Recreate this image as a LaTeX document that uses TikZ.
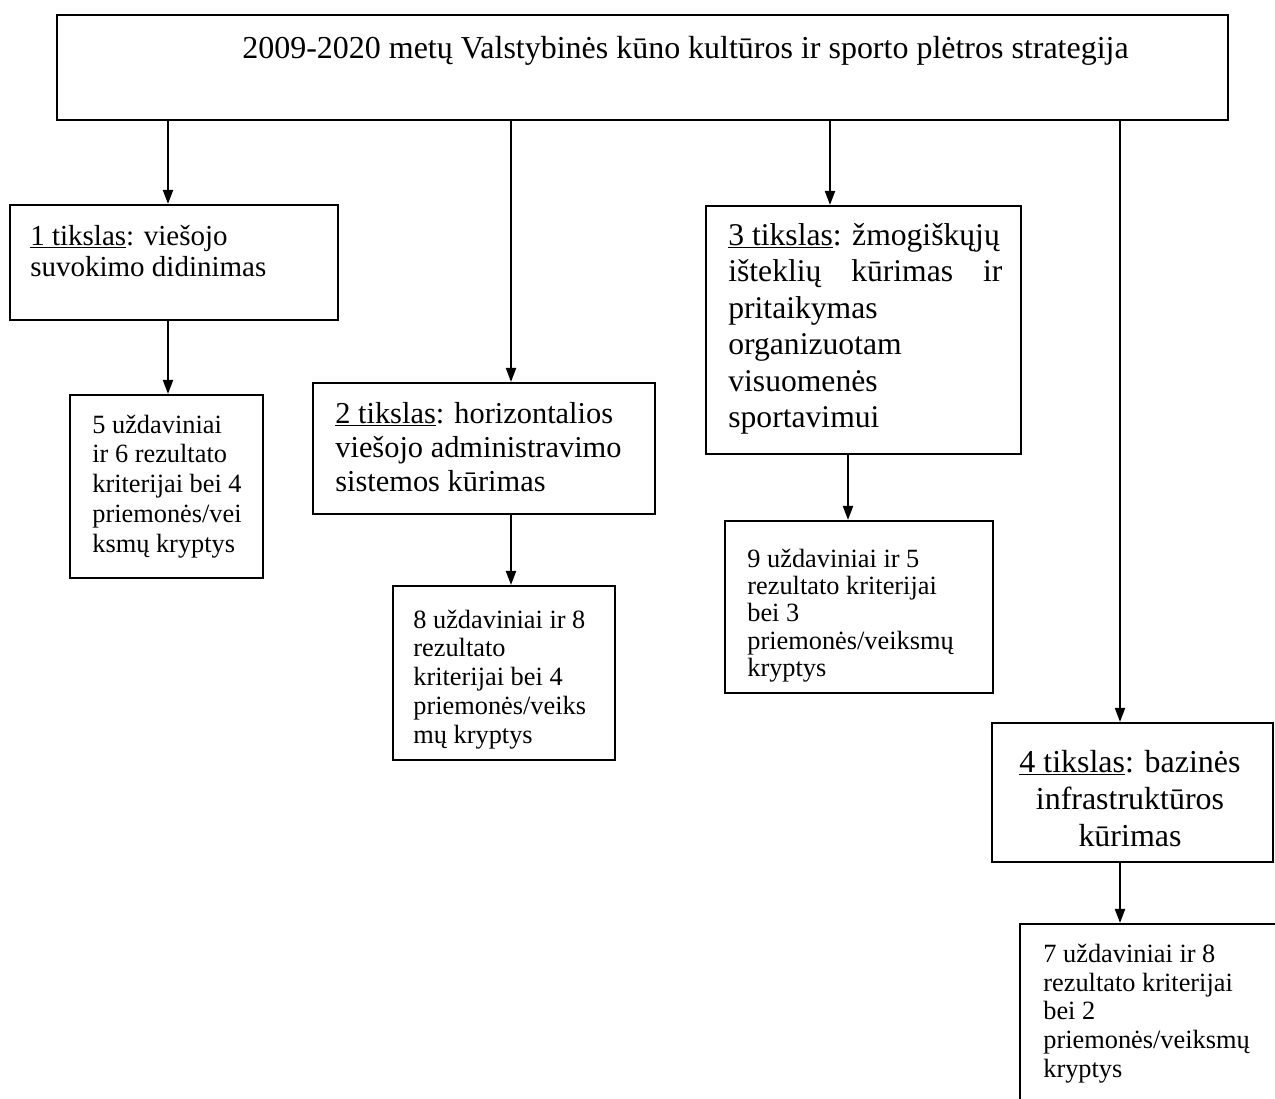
\documentclass[tikz,border=0pt]{standalone}
\usepackage{fontspec}
\setmainfont{Liberation Serif}
\usetikzlibrary{arrows.meta,fit}
\tikzset{
  box/.style={draw=black, line width=1.2pt, inner sep=0pt, rectangle},
  txt/.style={inner sep=0pt, anchor=base west, align=left},
  arr/.style={line width=1.2pt, -{Triangle[length=2.8mm,width=2mm]}},
}
\newcommand{\headfont}[2]{\fontsize{#1}{#2}\selectfont}
\begin{document}
\begin{tikzpicture}[x=0.02cm,y=-0.02cm]
\clip (0,0) rectangle (1275,1099);
\fill[white] (0,0) rectangle (1275,1099);

% strategy box
\node[box, line width=1.4pt, fit={(57,15) (1228,120)}] (top) {};
\node[txt] (toptxt) at (242,58) {\headfont{18.2}{21}2009-2020 metų Valstybinės kūno kultūros ir sporto plėtros strategija};

% goal boxes
\node[box, fit={(10,205) (338,320)}] (g1) {};
\node[txt] (g1t) at (30,245) {\parbox[t]{6cm}{\headfont{16.5}{18.2}\raggedright
  \underline{1 tikslas}: viešojo\\suvokimo didinimas}};

\node[box, fit={(313,383) (655,514)}] (g2) {};
\node[txt] (g2t) at (335,423) {\parbox[t]{6.4cm}{\headfont{17.3}{19.6}\raggedright
  \underline{2 tikslas}: horizontalios\\viešojo administravimo\\sistemos kūrimas}};

\node[box, fit={(706,206) (1021,454)}] (g3) {};
\node[txt] (g3t) at (728,245) {\parbox[t]{5.48cm}{\headfont{18}{20.8}\raggedright
  \underline{3 tikslas}: žmogiškųjų\\\makebox[5.48cm][s]{išteklių kūrimas ir}\\pritaikymas\\organizuotam\\visuomenės\\sportavimui}};

\node[box, fit={(992,723) (1273,862)}] (g4) {};
\node[inner sep=0pt, anchor=base] (g4t) at (1130,772) {\parbox[t]{5.4cm}{\headfont{18.2}{21.3}\centering
  \underline{4 tikslas}: bazinės\\infrastruktūros\\kūrimas}};

% task boxes
\node[box, fit={(70,395) (263,578)}] (t1) {};
\node[txt] (t1t) at (92,433) {\parbox[t]{3.7cm}{\headfont{15}{17}\raggedright
  5 uždaviniai\\ir 6 rezultato\\kriterijai bei 4\\priemonės/vei\\ksmų kryptys}};

\node[box, fit={(393,586) (615,760)}] (t2) {};
\node[txt] (t2t) at (413,628) {\parbox[t]{4cm}{\headfont{15}{16.5}\raggedright
  8 uždaviniai ir 8\\rezultato\\kriterijai bei 4\\priemonės/veiks\\mų kryptys}};

\node[box, fit={(725,521) (993,693)}] (t3) {};
\node[txt] (t3t) at (747,567) {\parbox[t]{5cm}{\headfont{15}{15.6}\raggedright
  9 uždaviniai ir 5\\rezultato kriterijai\\bei 3\\priemonės/veiksmų\\kryptys}};

\node[box, fit={(1020,924) (1290,1115)}] (t4) {};
\node[txt] (t4t) at (1043,962) {\parbox[t]{5cm}{\headfont{15}{16.5}\raggedright
  7 uždaviniai ir 8\\rezultato kriterijai\\bei 2\\priemonės/veiksmų\\kryptys}};

% connector columns
\coordinate (c1) at (168,0);
\coordinate (c2) at (511,0);
\coordinate (c3) at (830,0);
\coordinate (c3b) at (848,0);
\coordinate (c4) at (1120,0);

\draw[arr] (top.south -| c1) -- (g1.north -| c1);
\draw[arr] (top.south -| c2) -- (g2.north -| c2);
\draw[arr] (top.south -| c3) -- (g3.north -| c3);
\draw[arr] (top.south -| c4) -- (g4.north -| c4);
\draw[arr] (g1.south -| c1) -- (t1.north -| c1);
\draw[arr] (g2.south -| c2) -- (t2.north -| c2);
\draw[arr] (g3.south -| c3b) -- (t3.north -| c3b);
\draw[arr] (g4.south -| c4) -- (t4.north -| c4);
\end{tikzpicture}
\end{document}
